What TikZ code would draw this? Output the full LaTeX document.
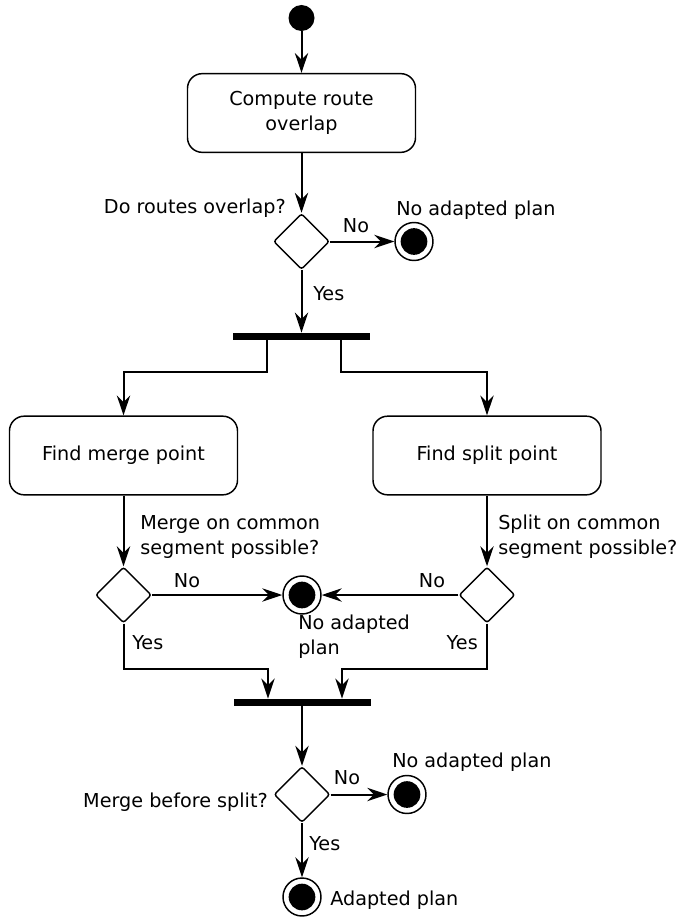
\documentclass[tikz,border=0pt]{standalone}
\usepackage{fontspec}
\setmainfont{DejaVu Sans}
\usetikzlibrary{shapes.geometric,arrows.meta,calc}

\tikzset{
  px/.style={x=0.75pt,y=-0.75pt},
  lbl/.style={font=\fontsize{14.4}{18.75}\selectfont, inner sep=0pt, align=left},
  action/.style={draw, line width=1.1pt, rounded corners=11pt, align=center,
    minimum width=171pt, minimum height=59pt, inner sep=0pt,
    font=\fontsize{14.4}{18.75}\selectfont},
  decision/.style={draw, diamond, aspect=1, line width=1.1pt, rounded corners=2pt,
    minimum width=42pt, minimum height=42pt, inner sep=0pt, fill=white},
  initial/.style={circle, fill=black, minimum size=19.5pt, inner sep=0pt},
  final/.style={circle, draw, line width=1.1pt, fill=white, minimum size=28.5pt, inner sep=0pt,
    path picture={\fill[black] (path picture bounding box.center) circle (10pt);}},
  bar/.style={rectangle, fill=black, minimum width=102.75pt, minimum height=5.5pt, inner sep=0pt},
  flow/.style={line width=1.5pt, -{Stealth[length=15pt,width=10pt,inset=5pt]}},
}

\begin{document}
\begin{tikzpicture}[px]
\useasboundingbox (0,0) rectangle (679,917);

% activities and control nodes
\node[initial]  (start)   at (301.5,18) {};
\node[action]   (compute) at (301.5,113) {Compute route\\overlap};
\node[decision] (d1)      at (301.5,241.5) {};
\node[final]    (fin1)    at (414,241.5) {};
\node[bar]      (fork)    at (301.5,336.5) {};
\node[action]   (merge)   at (123.5,455.5) {Find merge point};
\node[action]   (split)   at (487,455.5) {Find split point};
\node[decision] (d2)      at (123.5,595) {};
\node[decision] (d3)      at (487,595) {};
\node[final]    (fin2)    at (302,595) {};
\node[bar]      (join)    at (302,702.5) {};
\node[decision] (d4)      at (302,794.5) {};
\node[final]    (fin3)    at (407,794.5) {};
\node[final]    (fin4)    at (302,897) {};

% control flow
\draw[flow] (start) -- (compute);
\draw[flow] (compute) -- (d1);
\draw[flow] (d1) -- (fin1);
\draw[flow] (d1) -- (fork);
\draw[flow] ([xshift=-26pt]fork.south) -- ++(0,32) -| (merge.north);
\draw[flow] ([xshift=29.5pt]fork.south) -- ++(0,32) -| (split.north);
\draw[flow] (merge) -- (d2);
\draw[flow] (split) -- (d3);
\draw[flow] (d2) -- (fin2);
\draw[flow] (d3) -- (fin2);
\draw[flow] (d2.south) -- ++(0,45) -| ([xshift=-25.5pt]join.north);
\draw[flow] (d3.south) -- ++(0,45) -| ([xshift=30pt]join.north);
\draw[flow] (join) -- (d4);
\draw[flow] (d4) -- (fin3);
\draw[flow] (d4) -- (fin4);

% guards and notes
\node[lbl, anchor=east]  (q1)  at (286,208) {Do routes overlap?};
\node[lbl]               (n1)  at (356,226) {No};
\node[lbl, anchor=west]  (t1)  at (396,210) {No adapted plan};
\node[lbl, anchor=west]  (y1)  at (313,294) {Yes};
\node[lbl, anchor=west]  (q2)  at (140,537) {Merge on common\\segment possible?};
\node[lbl, anchor=west]  (q3)  at (498,537) {Split on common\\segment possible?};
\node[lbl]               (n2)  at (187,581) {No};
\node[lbl]               (n3)  at (432,581) {No};
\node[lbl, anchor=west]  (t2)  at (298,637) {No adapted\\plan};
\node[lbl, anchor=west]  (y2)  at (132,643) {Yes};
\node[lbl, anchor=east]  (y3)  at (478,643) {Yes};
\node[lbl, anchor=east]  (q4)  at (268,802) {Merge before split?};
\node[lbl]               (n4)  at (347,778) {No};
\node[lbl, anchor=west]  (t3)  at (392,762) {No adapted plan};
\node[lbl, anchor=west]  (y4)  at (309,844) {Yes};
\node[lbl, anchor=west]  (t4)  at (330,900) {Adapted plan};
\end{tikzpicture}
\end{document}
